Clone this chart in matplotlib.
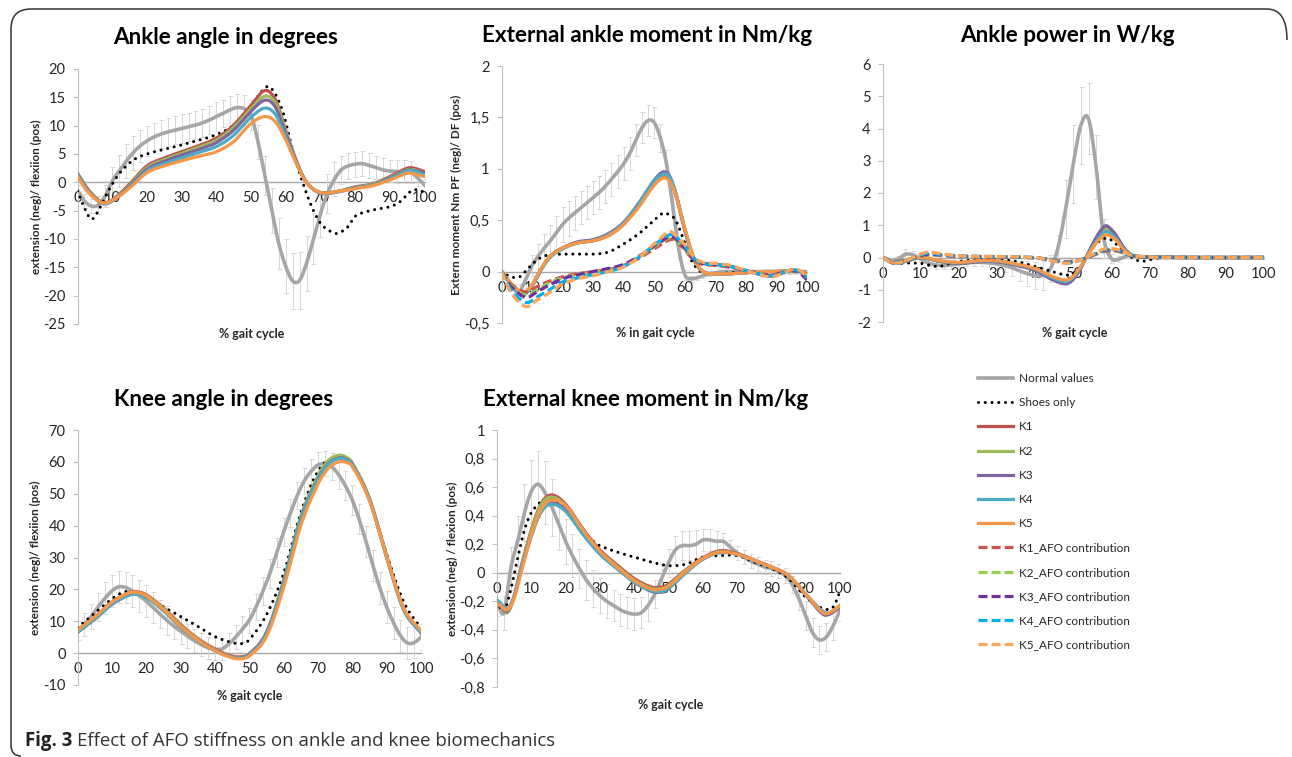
import matplotlib
matplotlib.use('Agg')
import numpy as np
from matplotlib import pyplot as plt
from matplotlib.path import Path
from matplotlib.patches import PathPatch

plt.rcParams['font.family'] = ['Lato', 'DejaVu Sans']

W, H = 1292, 757

# ---------------- data ----------------
gait = list(range(0, 101, 2))

# Ankle angle (deg)
ank_norm = [-1.4, -3.3, -4.2, -4.0, -2.4, 0.2, 2.0, 3.7, 5.2, 6.4,
            7.3, 8.0, 8.5, 8.9, 9.2, 9.5, 9.8, 10.1, 10.5, 11.0,
            11.6, 12.2, 12.8, 13.2, 13.0, 11.9, 7.2, 1.2, -5.0, -10.8,
            -14.8, -17.4, -17.3, -14.3, -10.0, -5.6, -2.0, 0.5, 2.2, 2.9,
            3.2, 3.3, 3.0, 2.6, 2.2, 2.0, 1.9, 1.9, 1.8, 0.8,
            -0.5]
ank_sd = [1.0, 1.2, 1.3, 1.6, 2.0, 2.5, 2.8, 3.0, 3.0, 2.8,
          2.6, 2.5, 2.5, 2.5, 2.5, 2.5, 2.5, 2.5, 2.5, 2.5,
          2.5, 2.4, 2.4, 2.4, 2.4, 2.6, 3.0, 3.5, 4.0, 4.5,
          4.8, 5.0, 5.0, 4.8, 4.5, 4.0, 3.5, 3.0, 2.5, 2.3,
          2.2, 2.2, 2.2, 2.1, 2.1, 2.0, 2.0, 2.0, 2.0, 1.5,
          1.0]
ank_shoes_x = [0, 2, 4, 6, 9, 12, 16, 20, 30, 40, 45, 50, 53, 55.5, 59, 62, 65,
               67.5, 70, 73, 75, 78, 80, 85, 90, 93, 96, 98, 100]
ank_shoes = [-1.5, -4.5, -6.5, -5.0, -1.4, 1.5, 3.9, 5.0, 6.6, 8.4, 10.1, 13.4,
             16.0, 16.8, 12.8, 5.7, -0.2, -4.3, -7.2, -8.7, -9.0, -7.8, -6.0,
             -4.9, -4.3, -3.4, -1.6, -1.3, -1.8]
ank_k_x = [0, 3, 7, 10, 15, 20, 25, 30, 35, 40, 45, 50, 54, 57, 60, 63, 66, 70,
           75, 80, 85, 90, 95, 97, 100]
ank_k1 = [1.6, -1.2, -3.5, -3.1, -0.3, 2.9, 4.3, 5.4, 6.5, 7.8, 10.1, 13.6, 16.2,
          14.6, 9.2, 3.9, 0.0, -1.8, -1.6, -0.8, -0.3, 1.0, 2.5, 2.5, 1.9]
ank_k2 = [1.5, -1.3, -3.6, -3.2, -0.5, 2.6, 4.0, 5.1, 6.2, 7.4, 9.7, 13.0, 15.2,
          14.0, 9.0, 3.8, 0.0, -1.8, -1.6, -0.9, -0.4, 0.8, 2.2, 2.2, 1.6]
ank_k3 = [1.4, -1.4, -3.7, -3.3, -0.7, 2.3, 3.7, 4.8, 5.8, 7.0, 9.2, 12.5, 14.5,
          13.3, 8.6, 3.7, 0.0, -1.9, -1.7, -1.0, -0.5, 0.7, 2.1, 2.1, 1.6]
ank_k4 = [1.3, -1.5, -3.7, -3.3, -0.9, 2.0, 3.3, 4.3, 5.3, 6.3, 8.3, 11.5, 13.1,
          12.0, 8.0, 3.5, 0.0, -1.8, -1.6, -1.0, -0.5, 0.6, 2.0, 2.0, 1.3]
ank_k5 = [1.0, -1.7, -3.6, -3.2, -1.0, 1.7, 2.9, 3.8, 4.6, 5.4, 7.2, 10.4, 11.6,
          10.7, 7.5, 3.4, 0.0, -1.8, -1.6, -1.1, -0.6, 0.4, 1.6, 1.5, 1.0]

# External ankle moment (Nm/kg)
am_norm = [0.0, -0.08, -0.17, -0.19, -0.07, 0.06, 0.15, 0.23, 0.30, 0.38,
           0.46, 0.52, 0.57, 0.62, 0.67, 0.72, 0.77, 0.83, 0.90, 0.97,
           1.05, 1.15, 1.28, 1.40, 1.47, 1.45, 1.30, 1.05, 0.65, 0.22,
           -0.03, -0.07, -0.06, -0.04, -0.02, -0.01, 0.0, 0.0, 0.0, 0.0,
           0.0, 0.0, 0.0, 0.0, 0.0, 0.0, 0.0, 0.0, 0.0, 0.0,
           0.0]
am_sd = [0.02, 0.03, 0.05, 0.07, 0.09, 0.10, 0.12, 0.14, 0.15, 0.16,
         0.17, 0.17, 0.17, 0.16, 0.16, 0.16, 0.16, 0.16, 0.16, 0.16,
         0.16, 0.16, 0.16, 0.15, 0.15, 0.15, 0.14, 0.13, 0.11, 0.08,
         0.05, 0.03, 0.02, 0.02, 0.02, 0.02, 0.02, 0.02, 0.02, 0.02,
         0.02, 0.02, 0.02, 0.02, 0.02, 0.02, 0.02, 0.02, 0.02, 0.02,
         0.02]
am_shoes_x = [0, 3, 6, 9, 12, 15, 20, 25, 30, 35, 40, 45, 50, 53, 55, 57, 60,
              62, 64, 66, 70, 80, 90, 100]
am_shoes = [0, -0.05, -0.05, 0.04, 0.12, 0.16, 0.17, 0.17, 0.17, 0.19, 0.27,
            0.37, 0.5, 0.57, 0.55, 0.5, 0.28, 0.12, 0.03, -0.01, -0.02, 0, 0, 0]
am_k_x = [0, 3, 7, 10, 13, 16, 20, 25, 30, 35, 40, 45, 50, 53, 55, 57, 60, 63,
          66, 70, 75, 80, 85, 90, 95, 98, 100]
am_k1 = [0, -0.12, -0.21, -0.13, 0.03, 0.15, 0.23, 0.28, 0.30, 0.35, 0.46, 0.64,
         0.86, 0.94, 0.90, 0.75, 0.40, 0.12, 0.0, -0.02, -0.02, -0.01, 0.0, 0.0,
         0.01, 0.0, -0.03]
am_k2 = [0, -0.12, -0.21, -0.13, 0.03, 0.15, 0.23, 0.28, 0.31, 0.36, 0.47, 0.65,
         0.87, 0.95, 0.91, 0.76, 0.41, 0.12, 0.0, -0.02, -0.02, -0.01, 0.0, 0.0,
         0.01, 0.0, -0.03]
am_k3 = [0, -0.12, -0.22, -0.14, 0.02, 0.15, 0.23, 0.29, 0.31, 0.37, 0.48, 0.67,
         0.89, 0.97, 0.93, 0.77, 0.41, 0.12, 0.0, -0.02, -0.02, -0.01, 0.0, 0.0,
         0.01, 0.0, -0.04]
am_k4 = [0, -0.12, -0.22, -0.14, 0.02, 0.14, 0.22, 0.28, 0.30, 0.36, 0.47, 0.66,
         0.88, 0.95, 0.92, 0.77, 0.42, 0.13, 0.0, -0.02, -0.02, -0.01, 0.0, 0.0,
         0.01, 0.0, -0.03]
am_k5 = [0, -0.11, -0.20, -0.13, 0.03, 0.15, 0.23, 0.28, 0.30, 0.35, 0.46, 0.63,
         0.84, 0.91, 0.88, 0.75, 0.42, 0.13, 0.0, -0.02, -0.02, -0.01, 0.0, 0.0,
         0.01, 0.0, -0.03]
am_afo_x = [0, 3, 8, 12, 15, 20, 25, 30, 35, 40, 45, 50, 55, 57, 60, 63, 66, 70,
            75, 80, 85, 89, 94, 97, 100]
am_afo1 = [0, -0.12, -0.20, -0.14, -0.10, -0.05, -0.02, 0.0, 0.02, 0.06, 0.13,
           0.22, 0.31, 0.30, 0.21, 0.11, 0.07, 0.06, 0.04, 0.01, -0.02, -0.03,
           0.01, 0.01, -0.04]
am_afo2 = [0, -0.13, -0.23, -0.17, -0.12, -0.06, -0.03, 0.0, 0.02, 0.06, 0.14,
           0.24, 0.33, 0.31, 0.22, 0.12, 0.08, 0.07, 0.05, 0.01, -0.02, -0.04,
           0.01, 0.01, -0.05]
am_afo3 = [0, -0.14, -0.25, -0.19, -0.14, -0.07, -0.03, 0.0, 0.03, 0.07, 0.15,
           0.25, 0.34, 0.32, 0.23, 0.12, 0.08, 0.07, 0.05, 0.01, -0.03, -0.04,
           0.01, 0.0, -0.08]
am_afo4 = [0, -0.17, -0.30, -0.24, -0.19, -0.10, -0.06, -0.03, 0.0, 0.05, 0.14,
           0.26, 0.36, 0.34, 0.25, 0.13, 0.08, 0.07, 0.05, 0.01, -0.03, -0.04,
           0.01, 0.01, -0.06]
am_afo5 = [0, -0.20, -0.34, -0.27, -0.22, -0.12, -0.07, -0.04, 0.0, 0.045, 0.14,
           0.27, 0.39, 0.35, 0.26, 0.14, 0.09, 0.08, 0.06, 0.01, -0.035, -0.05,
           0.01, 0.02, -0.05]

# Ankle power (W/kg)
pw_norm = [0.0, -0.1, -0.05, 0.1, 0.08, -0.05, -0.17, -0.23, -0.25, -0.23,
           -0.2, -0.17, -0.15, -0.15, -0.17, -0.2, -0.25, -0.32, -0.42, -0.5,
           -0.56, -0.55, -0.35, 0.3, 1.5, 2.9, 4.1, 4.3, 2.8, 0.6,
           -0.03, -0.05, 0.05, 0.05, 0.02, 0.0, 0.0, 0.0, 0.0, 0.0,
           0.0, 0.0, 0.0, 0.0, 0.0, 0.0, 0.0, 0.0, 0.0, 0.0,
           0.0]
pw_sd = [0.05, 0.08, 0.1, 0.15, 0.12, 0.1, 0.1, 0.12, 0.12, 0.12,
         0.1, 0.1, 0.1, 0.1, 0.12, 0.15, 0.2, 0.25, 0.3, 0.38,
         0.42, 0.45, 0.42, 0.4, 0.9, 1.2, 1.2, 1.1, 1.0, 0.6,
         0.15, 0.1, 0.08, 0.06, 0.04, 0.04, 0.04, 0.04, 0.04, 0.04,
         0.04, 0.04, 0.04, 0.04, 0.04, 0.04, 0.04, 0.04, 0.04, 0.04,
         0.04]
pw_shoes_x = [0, 4, 7, 10, 13, 15, 18, 20, 25, 30, 35, 40, 44, 48, 50, 52, 55,
              57, 59, 61, 64, 66, 68, 70, 73, 80, 90, 100]
pw_shoes = [0, -0.17, -0.17, -0.18, -0.26, -0.28, -0.17, -0.12, -0.07, -0.07,
            -0.12, -0.28, -0.42, -0.54, -0.49, -0.27, 0.29, 0.52, 0.6, 0.44,
            0.13, -0.05, -0.12, -0.07, 0.0, 0, 0, 0]
pw_k_x = [0, 3, 6, 10, 15, 20, 25, 30, 35, 40, 44, 48, 50, 52, 54, 56, 58, 59,
          61, 63, 65, 67, 70, 80, 90, 100]
pw_k1 = [0, -0.18, -0.12, 0.0, -0.12, -0.18, -0.13, -0.13, -0.23, -0.39, -0.64,
         -0.80, -0.66, -0.31, 0.15, 0.60, 0.93, 0.95, 0.72, 0.34, 0.1, 0.03, 0.01,
         0, 0, 0]
pw_k2 = [0, -0.18, -0.12, 0.0, -0.12, -0.17, -0.12, -0.12, -0.22, -0.38, -0.62,
         -0.78, -0.64, -0.30, 0.14, 0.57, 0.88, 0.90, 0.68, 0.32, 0.1, 0.03, 0.01,
         0, 0, 0]
pw_k3 = [0, -0.18, -0.12, 0.0, -0.12, -0.18, -0.13, -0.13, -0.24, -0.40, -0.66,
         -0.82, -0.68, -0.32, 0.15, 0.62, 0.95, 0.97, 0.72, 0.34, 0.1, 0.03, 0.01,
         0, 0, 0]
pw_k4 = [0, -0.17, -0.11, 0.0, -0.11, -0.16, -0.11, -0.11, -0.21, -0.36, -0.60,
         -0.75, -0.62, -0.28, 0.12, 0.50, 0.78, 0.80, 0.62, 0.30, 0.09, 0.03, 0.01,
         0, 0, 0]
pw_k5 = [0, -0.16, -0.10, 0.01, -0.10, -0.15, -0.10, -0.10, -0.20, -0.34, -0.56,
         -0.70, -0.58, -0.26, 0.10, 0.45, 0.68, 0.70, 0.56, 0.27, 0.08, 0.02, 0.01,
         0, 0, 0]
pw_afo_x = [0, 3, 6, 10, 12, 15, 20, 30, 40, 44, 48, 50, 53, 56, 58, 61, 63, 65,
            68, 72, 80, 90, 100]
pw_afo1 = [0, -0.12, -0.08, 0.04, 0.08, 0.06, 0.03, 0.02, -0.01, -0.06, -0.13,
           -0.11, -0.03, 0.10, 0.18, 0.20, 0.15, 0.06, 0.02, 0.01, 0, 0, 0]
pw_afo2 = [0, -0.13, -0.08, 0.05, 0.09, 0.07, 0.04, 0.02, -0.01, -0.07, -0.14,
           -0.12, -0.03, 0.11, 0.20, 0.21, 0.16, 0.07, 0.02, 0.01, 0, 0, 0]
pw_afo3 = [0, -0.14, -0.09, 0.06, 0.10, 0.08, 0.04, 0.02, -0.01, -0.08, -0.15,
           -0.13, -0.03, 0.12, 0.22, 0.23, 0.17, 0.07, 0.02, 0.01, 0, 0, 0]
pw_afo4 = [0, -0.15, -0.10, 0.08, 0.13, 0.10, 0.05, 0.03, 0.0, -0.08, -0.17,
           -0.15, -0.03, 0.13, 0.24, 0.25, 0.18, 0.08, 0.03, 0.01, 0, 0, 0]
pw_afo5 = [0, -0.17, -0.10, 0.11, 0.17, 0.12, 0.05, 0.03, 0.0, -0.09, -0.18,
           -0.15, -0.02, 0.15, 0.26, 0.26, 0.19, 0.08, 0.03, 0.01, 0, 0, 0]

# Knee angle (deg)
kn_norm = [7.0, 9.0, 11.5, 14.5, 17.2, 19.5, 20.8, 20.6, 19.5, 18.0,
           16.3, 14.3, 12.3, 10.3, 8.5, 6.9, 5.3, 3.9, 2.7, 1.7,
           1.2, 1.3, 2.8, 5.0, 7.5, 10.3, 14.5, 19.5, 25.0, 31.5,
           38.0, 44.0, 49.5, 54.0, 57.0, 59.0, 59.5, 58.5, 56.0, 52.5,
           48.0, 42.0, 35.0, 27.5, 20.5, 14.5, 9.5, 5.5, 3.2, 3.3,
           5.0]
kn_sd = [3.0, 3.5, 4.0, 4.5, 5.0, 5.0, 5.0, 5.0, 5.0, 5.0,
         5.0, 4.8, 4.5, 4.5, 4.2, 4.0, 3.8, 3.6, 3.5, 3.5,
         3.5, 3.5, 3.6, 3.8, 4.0, 4.0, 4.2, 4.4, 4.5, 4.5,
         4.5, 4.5, 4.3, 4.2, 4.0, 4.0, 4.0, 4.2, 4.4, 4.5,
         4.6, 4.7, 4.8, 4.8, 5.0, 5.0, 5.0, 5.0, 5.0, 4.8,
         4.0]
kn_shoes_x = [0, 5, 10, 13, 15, 20, 25, 30, 35, 40, 45, 48, 50, 55, 60, 65, 70,
              75, 80, 85, 90, 95, 100]
kn_shoes = [8.0, 12.5, 17.0, 19.0, 19.3, 17.5, 14.5, 11.5, 8.4, 5.2, 3.3, 3.0,
            4.2, 12.0, 25.0, 44.0, 57.0, 61.3, 58.5, 48.0, 31.0, 16.0, 7.8]
kn_k_x = [0, 5, 10, 15, 17, 20, 25, 30, 35, 40, 44, 47, 50, 55, 60, 65, 70, 73,
          76, 78, 80, 85, 90, 95, 100]
kn_k1 = [6.9, 11.2, 16.0, 19.0, 19.3, 18.3, 14.2, 9.0, 4.6, 1.3, -0.6, -1.2, -0.2,
         6.5, 22.5, 42.5, 55.0, 59.8, 61.7, 61.2, 59.3, 48.2, 30.2, 13.5, 6.6]
kn_k2 = [6.8, 11.0, 15.8, 18.8, 19.0, 18.0, 14.0, 8.7, 4.4, 1.1, -0.8, -1.4, -0.3,
         6.4, 22.6, 42.8, 55.6, 60.4, 62.1, 61.6, 59.7, 48.6, 30.5, 13.6, 6.5]
kn_k3 = [6.5, 10.6, 15.3, 18.2, 18.5, 17.6, 13.5, 8.3, 4.1, 0.9, -0.9, -1.5, -0.4,
         6.3, 22.2, 42.0, 54.7, 59.4, 61.2, 60.9, 59.2, 48.3, 30.3, 13.8, 6.3]
kn_k4 = [6.6, 10.7, 15.4, 18.3, 18.5, 17.5, 13.3, 8.1, 3.9, 0.7, -1.0, -1.6, -0.6,
         6.0, 21.8, 41.6, 54.4, 59.2, 61.0, 60.7, 59.0, 48.0, 30.0, 13.5, 6.6]
kn_k5 = [7.2, 11.3, 16.0, 18.9, 19.1, 18.0, 13.7, 8.4, 4.1, 0.8, -1.1, -1.8, -0.9,
         5.2, 20.5, 40.0, 53.0, 58.0, 60.0, 59.9, 58.6, 47.8, 30.2, 14.0, 7.2]

# External knee moment (Nm/kg)
km_norm = [-0.2, -0.28, 0.03, 0.22, 0.42, 0.57, 0.62, 0.56, 0.46, 0.34,
           0.22, 0.12, 0.03, -0.05, -0.11, -0.16, -0.2, -0.23, -0.26, -0.28,
           -0.29, -0.28, -0.23, -0.15, -0.04, 0.07, 0.16, 0.19, 0.19, 0.2,
           0.23, 0.23, 0.22, 0.22, 0.18, 0.14, 0.11, 0.08, 0.06, 0.04,
           0.03, 0.01, -0.02, -0.08, -0.18, -0.3, -0.42, -0.47, -0.45, -0.37,
           -0.26]
km_sd = [0.1, 0.12, 0.15, 0.18, 0.2, 0.22, 0.23, 0.22, 0.2, 0.18,
         0.16, 0.15, 0.14, 0.14, 0.13, 0.12, 0.12, 0.11, 0.11, 0.11,
         0.11, 0.11, 0.11, 0.1, 0.1, 0.1, 0.1, 0.1, 0.1, 0.1,
         0.08, 0.08, 0.07, 0.06, 0.05, 0.05, 0.05, 0.05, 0.05, 0.05,
         0.05, 0.05, 0.05, 0.06, 0.08, 0.1, 0.1, 0.1, 0.1, 0.1,
         0.08]
km_shoes_x = [0, 2, 4, 6, 8, 10, 13, 16, 20, 25, 28, 30, 35, 40, 45, 50, 55, 60,
              65, 70, 75, 80, 85, 90, 95, 98, 100]
km_shoes = [-0.2, -0.27, -0.12, 0.1, 0.3, 0.42, 0.5, 0.52, 0.44, 0.28, 0.22, 0.19,
            0.145, 0.11, 0.075, 0.05, 0.06, 0.11, 0.12, 0.12, 0.075, 0.03, -0.04,
            -0.17, -0.25, -0.24, -0.13]
km_k_x = [0, 1, 3, 5, 7, 10, 13, 16, 20, 25, 30, 35, 40, 45, 48, 50, 55, 60, 65,
          70, 75, 80, 85, 90, 95, 97, 100]
km_k1 = [-0.2, -0.22, -0.26, -0.16, 0.04, 0.3, 0.49, 0.545, 0.48, 0.31, 0.16,
         0.055, -0.04, -0.1, -0.1, -0.08, 0.02, 0.105, 0.155, 0.135, 0.09, 0.04,
         -0.02, -0.15, -0.28, -0.28, -0.23]
km_k2 = [-0.2, -0.23, -0.28, -0.17, 0.03, 0.29, 0.48, 0.53, 0.47, 0.3, 0.15,
         0.045, -0.05, -0.11, -0.11, -0.09, 0.015, 0.1, 0.15, 0.13, 0.088, 0.04,
         -0.02, -0.15, -0.28, -0.28, -0.23]
km_k3 = [-0.21, -0.23, -0.27, -0.17, 0.02, 0.26, 0.44, 0.49, 0.44, 0.28, 0.135,
         0.03, -0.065, -0.13, -0.135, -0.11, 0.0, 0.095, 0.145, 0.13, 0.086, 0.04,
         -0.02, -0.155, -0.29, -0.29, -0.24]
km_k4 = [-0.19, -0.21, -0.26, -0.17, 0.02, 0.26, 0.43, 0.48, 0.43, 0.27, 0.13,
         0.03, -0.065, -0.125, -0.13, -0.11, 0.0, 0.095, 0.14, 0.13, 0.086, 0.04,
         -0.02, -0.15, -0.27, -0.28, -0.23]
km_k5 = [-0.21, -0.23, -0.26, -0.18, 0.0, 0.26, 0.45, 0.51, 0.47, 0.3, 0.15,
         0.04, -0.055, -0.115, -0.115, -0.095, 0.01, 0.1, 0.145, 0.13, 0.087, 0.04,
         -0.02, -0.15, -0.28, -0.28, -0.23]

k_labels = ['K1', 'K2', 'K3', 'K4', 'K5']
k_colors = ['#c0504d', '#9bbb59', '#8064a2', '#4bacc6', '#f79646']
afo_labels = [k + '_AFO contribution' for k in k_labels]
afo_colors = ['#d0504c', '#92d050', '#7030a0', '#00b0f0', '#ffa556']

GREY = '#a6a6a6'
TEXT = '#262626'


def smooth(x, y, n=16):
    """Excel-like smoothed line: cubic Hermite through every point."""
    x = np.asarray(x, float)
    y = np.asarray(y, float)
    m = np.empty_like(y)
    m[1:-1] = (y[2:] - y[:-2]) / (x[2:] - x[:-2])
    m[0] = (y[1] - y[0]) / (x[1] - x[0])
    m[-1] = (y[-1] - y[-2]) / (x[-1] - x[-2])
    t = np.linspace(0, 1, n, endpoint=False)
    h00 = 2 * t**3 - 3 * t**2 + 1
    h10 = t**3 - 2 * t**2 + t
    h01 = -2 * t**3 + 3 * t**2
    h11 = t**3 - t**2
    xs, ys = [], []
    for i in range(len(x) - 1):
        h = x[i + 1] - x[i]
        xs.append(x[i] + t * h)
        ys.append(h00 * y[i] + h10 * h * m[i] + h01 * y[i + 1] + h11 * h * m[i + 1])
    xs.append([x[-1]])
    ys.append([y[-1]])
    return np.concatenate(xs), np.concatenate(ys)


fig = plt.figure(figsize=(W / 100, H / 100), dpi=100)


def add_axes_px(left, top, right, bottom):
    return fig.add_axes([left / W, 1 - bottom / H, (right - left) / W, (bottom - top) / H])


def fmt(v):
    return ('%g' % v).replace('.', ',')


def panel(ax, yticks, norm, sd, shoes_x, shoes, k_x, ks, afo_x=None, afos=None):
    ax.patch.set_alpha(0)
    ax.errorbar(gait, norm, yerr=sd, fmt='none', ecolor='#d6d6d6',
                elinewidth=0.7, capsize=1.8, capthick=0.7, zorder=1)
    ax.plot(*smooth(gait, norm), color=GREY, lw=2.6, zorder=2, label='Normal values')
    ax.plot(*smooth(shoes_x, shoes), color='black', lw=2.2, ls=(0, (0.01, 2.2)),
            dash_capstyle='round', zorder=3, label='Shoes only')
    for vals, c, lab in zip(ks, k_colors, k_labels):
        ax.plot(*smooth(k_x, vals), color=c, lw=2.3, zorder=4, label=lab)
    if afos is not None:
        for vals, c, lab in zip(afos, afo_colors, afo_labels):
            ax.plot(*smooth(afo_x, vals), color=c, lw=2.3, ls=(0, (2.8, 1.3)),
                    zorder=5, label=lab)

    ax.set_xlim(0, 100)
    ax.set_ylim(yticks[0], yticks[-1])
    for s in ['top', 'right']:
        ax.spines[s].set_visible(False)
    ax.spines['left'].set_color('#bfbfbf')
    ax.spines['left'].set_linewidth(0.8)
    ax.spines['bottom'].set_position(('data', 0))
    ax.spines['bottom'].set_color(GREY)
    ax.spines['bottom'].set_linewidth(1.0)
    ax.spines['bottom'].set_zorder(0.5)
    ax.set_xticks(range(0, 101, 10))
    ax.tick_params(axis='x', length=0, pad=6.5, labelsize=10.5, labelcolor=TEXT)
    ax.set_yticks(yticks)
    ax.set_yticklabels([fmt(v) for v in yticks])
    ax.tick_params(axis='y', length=3.5, width=0.8, color='#bfbfbf', pad=5,
                   labelsize=10.5, labelcolor=TEXT)


def labels(ax, xlabel, xl_pos, ylabel=None, yl_x=None):
    ax.set_xlabel(xlabel, fontsize=9, fontweight='bold', color=TEXT, va='center')
    ax.xaxis.set_label_coords(*xl_pos)
    if ylabel:
        ax.set_ylabel(ylabel, fontsize=8.5, fontweight='bold', color=TEXT, va='center')
        ax.yaxis.set_label_coords(yl_x, 0.5)


# ---- panels ----
ax1 = add_axes_px(77.5, 69, 424.5, 324)
panel(ax1, list(range(-25, 21, 5)), ank_norm, ank_sd, ank_shoes_x, ank_shoes,
      ank_k_x, [ank_k1, ank_k2, ank_k3, ank_k4, ank_k5])
labels(ax1, '% gait cycle', (0.503, -0.039), 'extension (neg)/ flexiion (pos)', -0.117)

ax2 = add_axes_px(501.5, 66, 807, 323)
panel(ax2, [-0.5, 0, 0.5, 1, 1.5, 2], am_norm, am_sd, am_shoes_x, am_shoes,
      am_k_x, [am_k1, am_k2, am_k3, am_k4, am_k5],
      am_afo_x, [am_afo1, am_afo2, am_afo3, am_afo4, am_afo5])
labels(ax2, '% in gait cycle', (0.502, -0.039), 'Extern moment Nm PF (neg)/ DF (pos)', -0.146)

ax3 = add_axes_px(882.5, 64, 1264, 322)
panel(ax3, list(range(-2, 7)), pw_norm, pw_sd, pw_shoes_x, pw_shoes,
      pw_k_x, [pw_k1, pw_k2, pw_k3, pw_k4, pw_k5],
      pw_afo_x, [pw_afo1, pw_afo2, pw_afo3, pw_afo4, pw_afo5])
labels(ax3, '% gait cycle', (0.505, -0.043))

ax4 = add_axes_px(77.5, 430, 421, 685)
panel(ax4, list(range(-10, 71, 10)), kn_norm, kn_sd, kn_shoes_x, kn_shoes,
      kn_k_x, [kn_k1, kn_k2, kn_k3, kn_k4, kn_k5])
labels(ax4, '% gait cycle', (0.502, -0.043), 'extension (neg)/ flexiion (pos)', -0.121)

ax5 = add_axes_px(497, 430, 840, 687)
panel(ax5, [-0.8, -0.6, -0.4, -0.2, 0, 0.2, 0.4, 0.6, 0.8, 1], km_norm, km_sd,
      km_shoes_x, km_shoes, km_k_x, [km_k1, km_k2, km_k3, km_k4, km_k5])
labels(ax5, '% gait cycle', (0.507, -0.07), 'extension (neg) / flexion (pos)', -0.131)

# ---- titles ----
titles = [('Ankle angle in degrees', 226, 38),
          ('External ankle moment in Nm/kg', 647, 36),
          ('Ankle power in W/kg', 1067, 36),
          ('Knee angle in degrees', 224, 399),
          ('External knee moment in Nm/kg', 646, 399)]
for txt, cx, cy in titles:
    fig.text(cx / W, 1 - cy / H, txt, ha='center', va='center', fontsize=16.2,
             fontweight='bold', color='black')

# ---- legend ----
handles, labs = ax2.get_legend_handles_labels()
fig.legend(handles, labs, loc='upper left', bbox_to_anchor=(978 / W, 1 - 373 / H),
           frameon=False, fontsize=8.5, handlelength=3.0, handletextpad=0.45,
           labelspacing=1.12, borderpad=0, borderaxespad=0, labelcolor=TEXT)

# ---- caption ----
renderer = fig.canvas.get_renderer()
t1 = fig.text(25 / W, 1 - 746 / H, 'Fig. 3', fontsize=13.4, fontweight='bold',
              family='Open Sans', va='baseline', color='#222222')
bb = t1.get_window_extent(renderer)
fig.text((bb.x1 + 5) / W, 1 - 746 / H, 'Effect of AFO stiffness on ankle and knee biomechanics',
         fontsize=13.4, family='Open Sans', va='baseline', color='#333333')

# ---- rounded frame ----
pts = [(1287, 40), (1287, 9), (1267, 9), (31, 9), (11, 9), (11, 29),
       (11, 745), (11, 756), (21, 756)]
codes = [Path.MOVETO, Path.CURVE3, Path.CURVE3, Path.LINETO, Path.CURVE3, Path.CURVE3,
         Path.LINETO, Path.CURVE3, Path.CURVE3]
frame = Path([(x / W, 1 - y / H) for x, y in pts], codes)
fig.add_artist(PathPatch(frame, transform=fig.transFigure, fill=False,
                         edgecolor='#333333', lw=1.1))

fig.savefig('out.png', dpi=100)
